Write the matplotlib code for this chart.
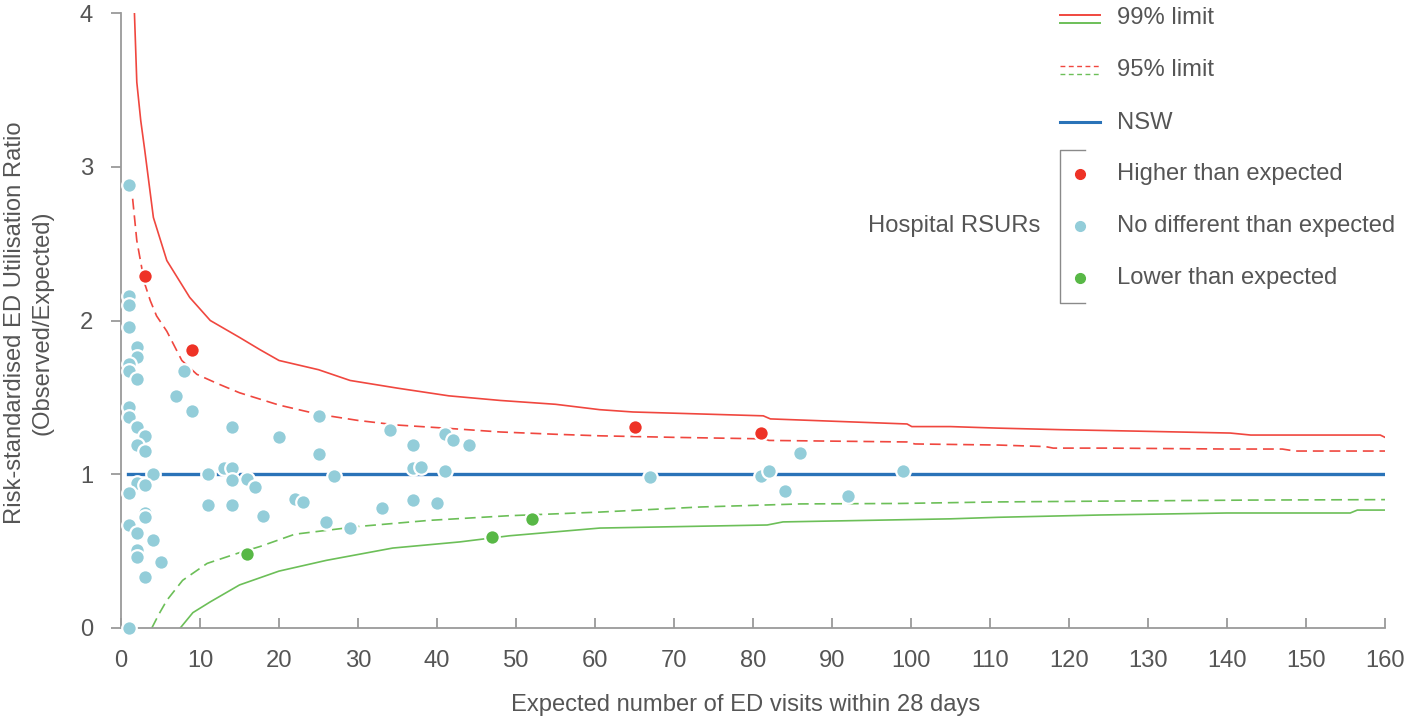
import matplotlib
matplotlib.use("Agg")
import matplotlib.pyplot as plt
from matplotlib.lines import Line2D

# ---------------- data ----------------
upper99_x = [1.7, 2.0, 2.5, 3.0, 4.1, 5.8, 8.7, 11.3, 15, 17.6, 20, 25, 29, 35, 41.5, 48, 55, 60.6, 64.8,
             81.3, 82.2, 99.5, 100.1, 105, 111, 118.9, 129, 140.4, 143, 159.4, 160]
upper99_y = [4.0, 3.55, 3.3, 3.11, 2.67, 2.39, 2.15, 2.0, 1.89, 1.81, 1.74, 1.68, 1.61, 1.56, 1.51, 1.48, 1.455,
             1.42, 1.405, 1.38, 1.36, 1.327, 1.31, 1.31, 1.30, 1.29, 1.28, 1.268, 1.255, 1.255, 1.24]

upper95_x = [1.3, 1.4, 2.0, 2.6, 3.0, 3.7, 4.5, 5.8, 7.7, 9.6, 12.2, 15, 20, 25, 30, 35, 41, 48, 55, 60.6,
             70, 81.5, 82, 99.5, 100.5, 111, 117, 118, 125, 140, 147, 148.6, 160]
upper95_y = [2.9, 2.83, 2.52, 2.35, 2.24, 2.13, 2.03, 1.93, 1.74, 1.65, 1.59, 1.53, 1.45, 1.39, 1.35, 1.32,
             1.30, 1.275, 1.26, 1.25, 1.24, 1.23, 1.22, 1.21, 1.197, 1.19, 1.18, 1.17, 1.17, 1.164, 1.164,
             1.151, 1.151]

lower95_x = [3.9, 4.8, 5.8, 7.8, 10.9, 15, 17.6, 22, 30, 39, 49, 60.6, 73.3, 86, 98.6, 111, 124, 143, 160]
lower95_y = [0.0, 0.09, 0.18, 0.31, 0.42, 0.49, 0.53, 0.61, 0.66, 0.70, 0.73, 0.754, 0.787, 0.807, 0.81,
             0.82, 0.825, 0.832, 0.835]

lower99_x = [7.5, 9.1, 11.3, 15, 20, 26, 34.4, 42.9, 49.2, 60.6, 81.8, 83.8, 105, 111, 124, 140, 155.6,
             156.5, 160]
lower99_y = [0.0, 0.10, 0.17, 0.28, 0.37, 0.44, 0.52, 0.56, 0.60, 0.65, 0.67, 0.69, 0.71, 0.72, 0.735,
             0.748, 0.748, 0.767, 0.767]

nsw_x = [0.9, 160]
nsw_y = [1.0, 1.0]

nodiff_x = [1, 1, 1, 1, 2, 2, 1, 1, 2, 1, 1, 2, 3, 2, 3, 4, 2, 3, 1, 3, 3, 1, 2, 4, 2, 2, 5, 3, 1,
            8, 7, 9, 14, 20, 25, 25, 34, 37, 41, 42, 44, 11, 13, 14, 14, 16, 17, 27, 11, 14, 18, 22, 23,
            26, 29, 33, 37, 40, 37, 38, 41, 67, 81, 82, 86, 84, 92, 99]
nodiff_y = [2.88, 2.16, 2.10, 1.96, 1.83, 1.76, 1.72, 1.67, 1.62, 1.44, 1.37, 1.31, 1.25, 1.19, 1.15,
            1.0, 0.94, 0.93, 0.88, 0.75, 0.72, 0.67, 0.62, 0.57, 0.51, 0.46, 0.43, 0.33, 0.0,
            1.67, 1.51, 1.41, 1.31, 1.24, 1.38, 1.13, 1.29, 1.19, 1.26, 1.22, 1.19, 1.0, 1.04, 1.04,
            0.96, 0.97, 0.92, 0.99, 0.80, 0.80, 0.73, 0.84, 0.82, 0.69, 0.65, 0.78, 0.83, 0.81, 1.04,
            1.05, 1.02, 0.98, 0.99, 1.02, 1.14, 0.89, 0.86, 1.02]

higher_x = [3, 9, 65, 81]
higher_y = [2.29, 1.81, 1.31, 1.27]

lower_x = [16, 47, 52]
lower_y = [0.48, 0.59, 0.71]

x_ticks = list(range(0, 161, 10))
y_ticks = [0, 1, 2, 3, 4]

xlabel = "Expected number of ED visits within 28 days"
ylabel = "Risk-standardised ED Utilisation Ratio\n(Observed/Expected)"
legend_labels = ["99% limit", "95% limit", "NSW", "Higher than expected",
                 "No different than expected", "Lower than expected"]
group_label = "Hospital RSURs"

# ---------------- style ----------------
RED_LINE = "#F0473F"
GREEN_LINE = "#6CBF58"
NSW_BLUE = "#2A73B8"
RED_PT = "#EE3226"
BLUE_PT = "#93CDD9"
GREEN_PT = "#58B846"
AXIS = "#9A9A9A"
TEXT = "#555555"

plt.rcParams["font.family"] = ["Liberation Sans", "DejaVu Sans"]
FS = 17.1

W, H = 1407, 717
fig = plt.figure(figsize=(W / 100, H / 100), dpi=100)
L, R, T, B = 121, 1385, 13, 628
ax = fig.add_axes([L / W, 1 - B / H, (R - L) / W, (B - T) / H])

DASH = (0, (6.5, 3.5))
ax.plot(upper99_x, upper99_y, color=RED_LINE, lw=1.2, zorder=2)
ax.plot(lower99_x, lower99_y, color=GREEN_LINE, lw=1.2, zorder=2)
ax.plot(upper95_x, upper95_y, color=RED_LINE, lw=1.2, ls=DASH, zorder=2)
ax.plot(lower95_x, lower95_y, color=GREEN_LINE, lw=1.2, ls=DASH, zorder=2)
ax.plot(nsw_x, nsw_y, color=NSW_BLUE, lw=2.4, zorder=2.2)

sc_kw = dict(s=110, edgecolors="white", linewidths=1.6, zorder=3, clip_on=False)
ax.scatter(nodiff_x, nodiff_y, color=BLUE_PT, **sc_kw)
ax.scatter(higher_x, higher_y, color=RED_PT, **sc_kw)
ax.scatter(lower_x, lower_y, color=GREEN_PT, **sc_kw)

ax.set_xlim(0, 160)
ax.set_ylim(0, 4)
for s in ["top", "right"]:
    ax.spines[s].set_visible(False)
for s in ["left", "bottom"]:
    ax.spines[s].set_color(AXIS)
    ax.spines[s].set_linewidth(1.3)
ax.set_xticks(x_ticks)
ax.set_yticks(y_ticks)
ax.tick_params(axis="x", direction="in", length=7, width=1.3, color=AXIS, labelsize=FS,
               labelcolor=TEXT, pad=16)
ax.tick_params(axis="y", direction="out", length=7, width=1.3, color=AXIS, labelsize=FS,
               labelcolor=TEXT, pad=13)

def fx(px):
    return px / W

def fy(py):
    return 1 - py / H

fig.text(fx(746), fy(705), xlabel, ha="center", va="center", fontsize=FS, color=TEXT)
fig.text(fx(29), fy(323), ylabel, ha="center", va="center", rotation=90, fontsize=FS,
         color=TEXT, linespacing=1.3, multialignment="center")

# ---------------- manual legend ----------------
def fline(x0, x1, y, **kw):
    fig.add_artist(Line2D([fx(x0), fx(x1)], [fy(y), fy(y)], transform=fig.transFigure, **kw))

fline(1060, 1100, 15, color=RED_LINE, lw=1.4)
fline(1060, 1100, 23, color=GREEN_LINE, lw=1.4)
fline(1060, 1100, 66, color=RED_LINE, lw=1.0, ls=(0, (3.5, 2.5)))
fline(1060, 1100, 74, color=GREEN_LINE, lw=1.0, ls=(0, (3.5, 2.5)))
fline(1060, 1100, 122, color=NSW_BLUE, lw=2.2)

tx = 1117
for lab, ypx in zip(legend_labels, [18, 70, 123, 174, 226, 278]):
    fig.text(fx(tx), fy(ypx), lab, ha="left", va="center", fontsize=FS, color=TEXT)

for col, ypx in zip([RED_PT, BLUE_PT, GREEN_PT], [174, 226, 278]):
    fig.add_artist(Line2D([fx(1080)], [fy(ypx)], transform=fig.transFigure, marker="o",
                          markersize=7, color=col, ls="none"))

# bracket
fig.add_artist(Line2D([fx(1085), fx(1060), fx(1060), fx(1085)],
                      [fy(150), fy(150), fy(303), fy(303)],
                      transform=fig.transFigure, color="#8A8A8A", lw=1.0))
fig.text(fx(1040), fy(226), group_label, ha="right", va="center", fontsize=FS, color=TEXT)

fig.savefig("out.png", dpi=100)
